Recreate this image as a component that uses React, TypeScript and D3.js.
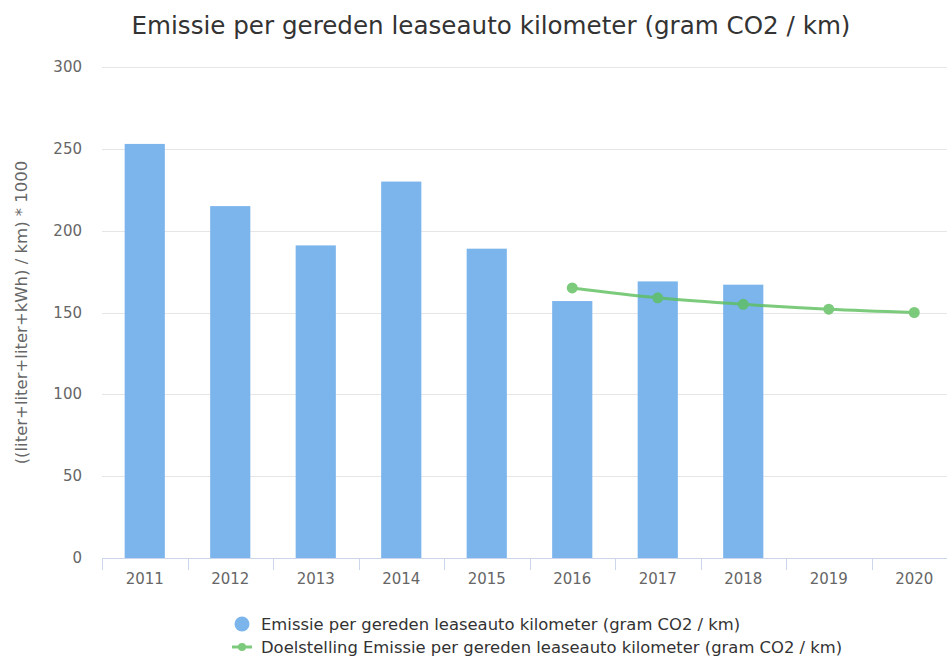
import { useEffect, useRef } from "react";
import * as d3 from "d3";

const years = ["2011", "2012", "2013", "2014", "2015", "2016", "2017", "2018", "2019", "2020"];
const emissie = [253, 215, 191, 230, 189, 157, 169, 167, null, null];
const doelYears = ["2016", "2017", "2018", "2019", "2020"];
const doelstelling = [165, 159, 155, 152, 150];
const yTicks = [0, 50, 100, 150, 200, 250, 300];

const title = "Emissie per gereden leaseauto kilometer (gram CO2 / km)";
const yTitle = "((liter+liter+liter+kWh) / km) * 1000";
const legendBar = "Emissie per gereden leaseauto kilometer (gram CO2 / km)";
const legendLine = "Doelstelling Emissie per gereden leaseauto kilometer (gram CO2 / km)";

export default function App() {
  const ref = useRef<SVGSVGElement>(null);

  useEffect(() => {
    const width = 947;
    const left = 102;
    const right = 957;
    const top = 67;
    const bottom = 558;
    const font = "DejaVu Sans, sans-serif";

    const svg = d3.select(ref.current);
    svg.selectAll("*").remove();

    const x = d3.scaleBand().domain(years).range([left, right]).paddingInner(0.53).paddingOuter(0.265);
    const xTicks = d3.scaleBand().domain(years).range([left, right]);
    const y = d3.scaleLinear().domain([0, 300]).range([bottom, top]);

    // title
    svg.append("text")
      .attr("x", 491)
      .attr("y", 34)
      .attr("text-anchor", "middle")
      .attr("font-family", font)
      .attr("font-size", 24.6)
      .attr("fill", "#333")
      .text(title);

    // grid
    svg.append("g")
      .selectAll("line")
      .data(yTicks.filter(d => d > 0))
      .enter()
      .append("line")
      .attr("x1", left)
      .attr("x2", width)
      .attr("y1", d => Math.round(y(d)) + 0.5)
      .attr("y2", d => Math.round(y(d)) + 0.5)
      .attr("stroke", "#e6e6e6")
      .attr("stroke-width", 1);

    // y labels
    svg.append("g")
      .selectAll("text")
      .data(yTicks)
      .enter()
      .append("text")
      .attr("x", 82)
      .attr("y", d => y(d) + 5)
      .attr("text-anchor", "end")
      .attr("font-family", font)
      .attr("font-size", 15)
      .attr("fill", "#666")
      .text(d => d);

    // y title
    svg.append("text")
      .attr("transform", `translate(27,${(top + bottom) / 2}) rotate(-90)`)
      .attr("text-anchor", "middle")
      .attr("font-family", font)
      .attr("font-size", 16.5)
      .attr("fill", "#666")
      .text(yTitle);

    // bars
    svg.append("g")
      .selectAll("rect")
      .data(years.map((yr, i) => ({ yr, v: emissie[i] })).filter(d => d.v !== null))
      .enter()
      .append("rect")
      .attr("x", d => x(d.yr)!)
      .attr("width", x.bandwidth())
      .attr("y", d => y(d.v as number))
      .attr("height", d => bottom - y(d.v as number))
      .attr("fill", "#7cb5ec");

    // x axis
    svg.append("line")
      .attr("x1", left)
      .attr("x2", width)
      .attr("y1", bottom + 0.5)
      .attr("y2", bottom + 0.5)
      .attr("stroke", "#ccd6eb");

    svg.append("g")
      .selectAll("line")
      .data(years)
      .enter()
      .append("line")
      .attr("x1", d => Math.round(xTicks(d)!) + 0.5)
      .attr("x2", d => Math.round(xTicks(d)!) + 0.5)
      .attr("y1", bottom)
      .attr("y2", bottom + 12)
      .attr("stroke", "#ccd6eb");

    svg.append("g")
      .selectAll("text")
      .data(years)
      .enter()
      .append("text")
      .attr("x", d => xTicks(d)! + xTicks.bandwidth() / 2)
      .attr("y", 584)
      .attr("text-anchor", "middle")
      .attr("font-family", font)
      .attr("font-size", 15)
      .attr("fill", "#666")
      .text(d => d);

    // target line
    const pts = doelYears.map((yr, i) => ({ yr, v: doelstelling[i] }));
    const line = d3.line<{ yr: string; v: number }>()
      .x(d => xTicks(d.yr)! + xTicks.bandwidth() / 2)
      .y(d => y(d.v))
      .curve(d3.curveMonotoneX);

    const g = svg.append("g").attr("opacity", 0.8);
    g.append("path")
      .datum(pts)
      .attr("fill", "none")
      .attr("stroke", "#5cbf5c")
      .attr("stroke-width", 3)
      .attr("d", line);

    g.selectAll("circle")
      .data(pts)
      .enter()
      .append("circle")
      .attr("cx", d => xTicks(d.yr)! + xTicks.bandwidth() / 2)
      .attr("cy", d => y(d.v))
      .attr("r", 5.5)
      .attr("fill", "#5cbf5c");

    // legend
    svg.append("circle")
      .attr("cx", 242)
      .attr("cy", 624)
      .attr("r", 7.5)
      .attr("fill", "#7cb5ec");
    svg.append("text")
      .attr("x", 261)
      .attr("y", 630)
      .attr("font-family", font)
      .attr("font-size", 16.4)
      .attr("fill", "#333")
      .text(legendBar);

    const lg = svg.append("g").attr("opacity", 0.8);
    lg.append("line")
      .attr("x1", 232)
      .attr("x2", 252)
      .attr("y1", 647)
      .attr("y2", 647)
      .attr("stroke", "#5cbf5c")
      .attr("stroke-width", 3);
    lg.append("circle")
      .attr("cx", 242)
      .attr("cy", 647)
      .attr("r", 4)
      .attr("fill", "#5cbf5c");
    svg.append("text")
      .attr("x", 261)
      .attr("y", 653)
      .attr("font-family", font)
      .attr("font-size", 16.4)
      .attr("fill", "#333")
      .text(legendLine);
  }, []);

  return (
    <svg
      ref={ref}
      width={947}
      height={657}
      style={{ position: "absolute", left: 0, top: 0, background: "#fff" }}
    />
  );
}
